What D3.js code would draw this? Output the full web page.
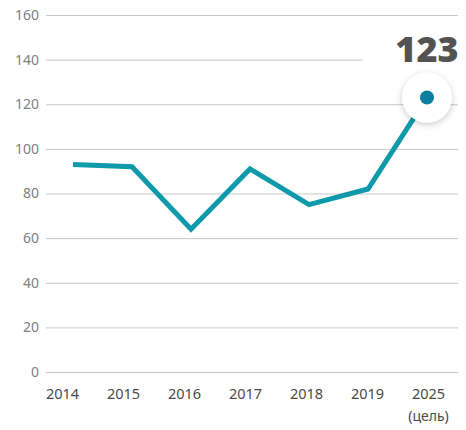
<!DOCTYPE html>
<html>
<head>
<meta charset="utf-8">
<script src="https://cdn.jsdelivr.net/npm/d3@7"></script>
<style>
  body { margin: 0; background: #fff; }
  svg { display: block; font-family: "Noto Sans", "Open Sans", sans-serif; }
</style>
</head>
<body>
<div class="chart"></div>
<script>
// data
const years = ['2014', '2015', '2016', '2017', '2018', '2019', '2025'];
const values = [93, 92, 64, 91, 75, 82, 123];
const yTicks = [0, 20, 40, 60, 80, 100, 120, 140, 160];
const targetNote = '(цель)';

const outerW = 466,
  outerH = 430;

const font = '"Noto Sans", "Open Sans", sans-serif';

const svg = d3.select('.chart').append('svg')
  .attr('width', outerW)
  .attr('height', outerH);

const defs = svg.append('defs');
const shadow = defs.append('filter')
  .attr('id', 'shadow')
  .attr('x', '-50%').attr('y', '-50%')
  .attr('width', '200%').attr('height', '200%');
shadow.append('feDropShadow')
  .attr('dx', 0).attr('dy', 2)
  .attr('stdDeviation', 3)
  .attr('flood-color', '#000')
  .attr('flood-opacity', 0.22);

const y = d3.scaleLinear()
  .domain([0, 160])
  .range([372, 15]);

// points and labels don't sit on exactly the same spacing in the original
const x = d3.scalePoint()
  .domain(years)
  .range([73, 427]);

const xLabel = d3.scalePoint()
  .domain(years)
  .range([62, 428]);

// grid + y labels
const yAxis = svg.append('g')
  .attr('transform', 'translate(46,0)')
  .call(d3.axisLeft(y).tickValues(yTicks).tickSize(-412).tickPadding(7))
  .attr('font-family', font)
  .attr('font-size', 14);

yAxis.select('.domain').remove();
yAxis.selectAll('.tick line')
  .attr('stroke', '#c8c8c8')
  .attr('stroke-width', 1);
yAxis.selectAll('.tick text')
  .attr('fill', '#808080');

// x labels
const xAxis = svg.append('g')
  .attr('transform', 'translate(0,381)')
  .call(d3.axisBottom(xLabel).tickSize(0).tickPadding(8))
  .attr('font-family', font)
  .attr('font-size', 14.5);

xAxis.select('.domain').remove();
xAxis.selectAll('.tick text')
  .attr('fill', '#4a4a4a');

xAxis.selectAll('.tick')
  .filter(d => d === years[years.length - 1])
  .append('text')
  .attr('y', 40)
  .attr('fill', '#4a4a4a')
  .attr('font-size', 14)
  .text(targetNote);

// white patch behind the big number, cutting the 140 gridline
const last = values.length - 1;
svg.append('rect')
  .attr('x', x(years[last]) - 64)
  .attr('y', y(140) - 3)
  .attr('width', 104)
  .attr('height', 6)
  .attr('fill', '#fff');

// line
const line = d3.line()
  .x((d, i) => x(years[i]))
  .y(d => y(d));

svg.append('path')
  .datum(values)
  .attr('fill', 'none')
  .attr('stroke', '#0e9aab')
  .attr('stroke-width', 5)
  .attr('stroke-linejoin', 'miter')
  .attr('d', line);

// highlight marker
svg.append('circle')
  .attr('cx', x(years[last]))
  .attr('cy', y(values[last]))
  .attr('r', 25)
  .attr('fill', '#fff')
  .attr('filter', 'url(#shadow)');

svg.append('circle')
  .attr('cx', x(years[last]))
  .attr('cy', y(values[last]))
  .attr('r', 7)
  .attr('fill', '#0a7f9f');

svg.append('text')
  .attr('x', x(years[last]))
  .attr('y', y(values[last]) - 36)
  .attr('text-anchor', 'middle')
  .attr('fill', '#535353')
  .style('font-family', '"Open Sans", sans-serif')
  .style('font-weight', 800)
  .style('font-size', '36px')
  .text(values[last]);
</script>
</body>
</html>
